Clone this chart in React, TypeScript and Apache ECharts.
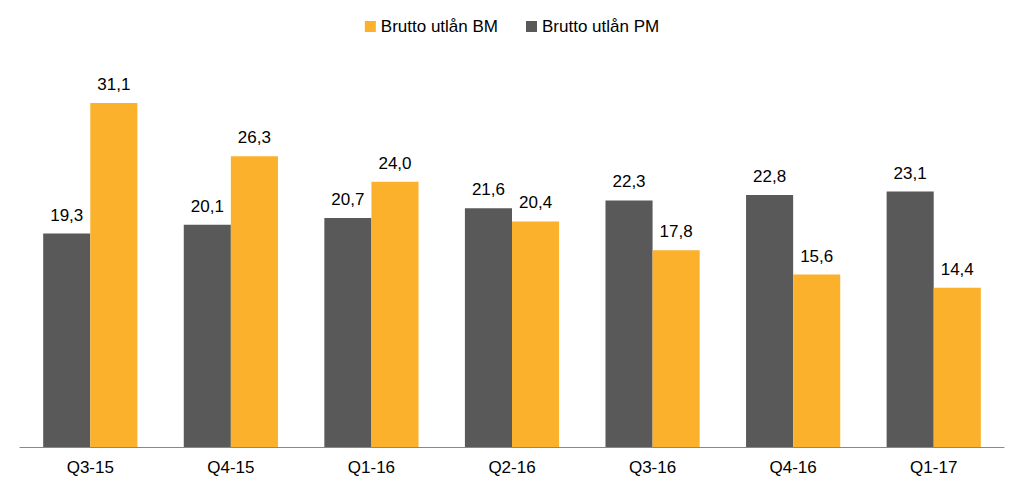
import React, { useEffect, useRef } from "react";
import * as echarts from "echarts";

const categories = ["Q3-15", "Q4-15", "Q1-16", "Q2-16", "Q3-16", "Q4-16", "Q1-17"];
const pmValues = [19.3, 20.1, 20.7, 21.6, 22.3, 22.8, 23.1];
const bmValues = [31.1, 26.3, 24.0, 20.4, 17.8, 15.6, 14.4];
const seriesNames = ["Brutto utlån PM", "Brutto utlån BM"];
const legendOrder = ["Brutto utlån BM", "Brutto utlån PM"];

const fmt = (v: number) => v.toFixed(1).replace(".", ",");

export default function App() {
  const ref = useRef<HTMLDivElement>(null);
  useEffect(() => {
    if (!ref.current) return;
    const chart = echarts.init(ref.current, undefined, { renderer: "svg" });
    const font = "Liberation Sans, Arial, sans-serif";
    chart.setOption({
      animation: false,
      textStyle: { fontFamily: font },
      legend: {
        data: legendOrder,
        top: 13,
        left: "center",
        itemWidth: 11,
        itemHeight: 11,
        itemGap: 28,
        icon: "rect",
        textStyle: { fontSize: 17, color: "#000", fontFamily: font },
      },
      grid: { left: 20, right: 20, top: 60, bottom: 43, containLabel: false },
      xAxis: {
        type: "category",
        data: categories,
        axisTick: { show: false },
        axisLine: { lineStyle: { color: "#888", width: 1 } },
        axisLabel: { fontSize: 17, color: "#000", margin: 12, fontFamily: font },
      },
      yAxis: { type: "value", min: 0, max: 35, show: false, splitLine: { show: false } },
      series: [
        {
          name: seriesNames[0],
          type: "bar",
          data: pmValues,
          barGap: "0%",
          barCategoryGap: "33%",
          itemStyle: { color: "#595959" },
          label: { show: true, position: "top", distance: 10, fontSize: 17, color: "#000", fontFamily: font, formatter: (p: any) => fmt(p.value) },
        },
        {
          name: seriesNames[1],
          type: "bar",
          data: bmValues,
          barGap: "0%",
          barCategoryGap: "33%",
          itemStyle: { color: "#FBB12B" },
          label: { show: true, position: "top", distance: 10, fontSize: 17, color: "#000", fontFamily: font, formatter: (p: any) => fmt(p.value) },
        },
      ],
    });
    return () => chart.dispose();
  }, []);
  return <div ref={ref} style={{ width: 1024, height: 490, position: "absolute", left: 0, top: 0 }} />;
}
